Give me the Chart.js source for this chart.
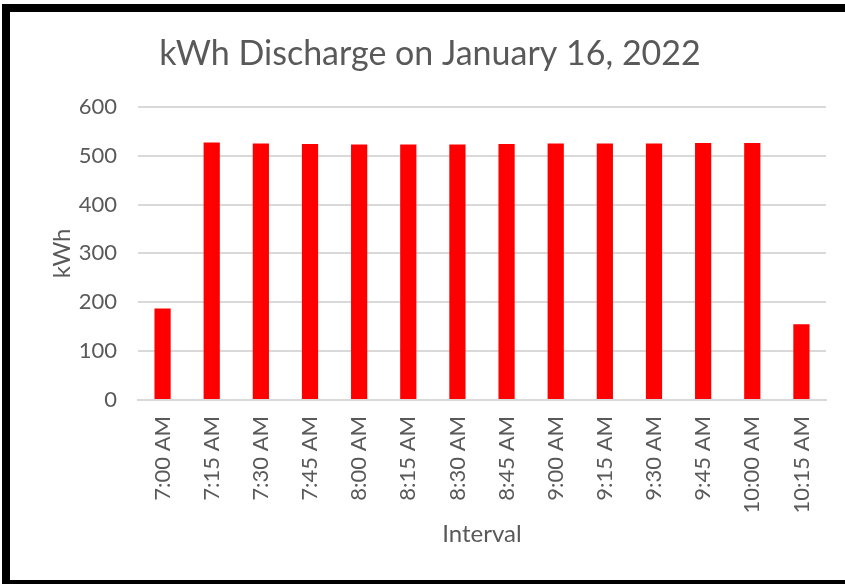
<!DOCTYPE html>
<html>
<head>
<meta charset="utf-8">
<script src="https://cdn.jsdelivr.net/npm/chart.js@4"></script>
<style>
  html, body { margin: 0; padding: 0; background: #fff; }
  #wrap { width: 845px; height: 584px; position: relative; }
</style>
</head>
<body>
<div id="wrap"><canvas id="discharge-chart" width="845" height="584"></canvas></div>
<script>
const intervals = ["7:00 AM", "7:15 AM", "7:30 AM", "7:45 AM", "8:00 AM", "8:15 AM", "8:30 AM",
    "8:45 AM", "9:00 AM", "9:15 AM", "9:30 AM", "9:45 AM", "10:00 AM", "10:15 AM"];
const kwhValues = [187, 527, 525, 524, 523, 523, 523, 524, 525, 525, 525, 526, 526, 155];
const yTicks = [0, 100, 200, 300, 400, 500, 600];

const textGray = '#595959';
const fontFamily = 'Lato, "Open Sans", sans-serif';

// black frame around the picture (no right edge in the reference)
const framePlugin = {
    id: 'frame',
    afterDraw(chart) {
        const ctx = chart.ctx;
        ctx.save();
        ctx.fillStyle = '#000';
        ctx.fillRect(2, 4, 843, 8);
        ctx.fillRect(2, 4, 8, 580);
        ctx.fillRect(2, 580, 843, 4);
        ctx.restore();
    }
};

const dischargeChart = new Chart(document.getElementById('discharge-chart'), {
    type: 'bar',
    data: {
        labels: intervals,
        datasets: [{
            label: 'kWh',
            data: kwhValues,
            backgroundColor: '#ff0000',
            borderWidth: 0,
            categoryPercentage: 1,
            barPercentage: 0.33
        }]
    },
    options: {
        responsive: false,
        animation: false,
        layout: {
            padding: { left: 34, right: 19, top: 0, bottom: 0 }
        },
        plugins: {
            legend: { display: false },
            tooltip: { enabled: false },
            title: {
                display: true,
                text: 'kWh Discharge on January 16, 2022',
                color: textGray,
                font: { family: fontFamily, size: 34, weight: 'normal' },
                padding: { top: 34, bottom: 32 }
            }
        },
        scales: {
            x: {
                grid: { display: false, drawTicks: false },
                border: { display: true, color: '#d9d9d9', width: 2 },
                ticks: {
                    color: textGray,
                    font: { family: fontFamily, size: 22 },
                    minRotation: 90,
                    maxRotation: 90,
                    autoSkip: false,
                    padding: 16
                },
                title: {
                    display: true,
                    text: 'Interval',
                    color: textGray,
                    font: { family: fontFamily, size: 24 },
                    padding: { top: 0, bottom: 35 }
                },
                afterFit(scale) { scale.height = 184; }
            },
            y: {
                min: 0,
                max: 600,
                afterBuildTicks(scale) { scale.ticks = yTicks.map(v => ({ value: v })); },
                grid: { color: '#d9d9d9', lineWidth: 2, drawTicks: false },
                border: { display: false },
                ticks: {
                    color: textGray,
                    font: { family: fontFamily, size: 22 },
                    padding: 21
                },
                title: {
                    display: true,
                    text: 'kWh',
                    color: textGray,
                    font: { family: fontFamily, size: 24 },
                    padding: { top: 14, bottom: 0 }
                },
                afterFit(scale) { scale.width = 104; }
            }
        }
    },
    plugins: [framePlugin]
});
</script>
</body>
</html>
